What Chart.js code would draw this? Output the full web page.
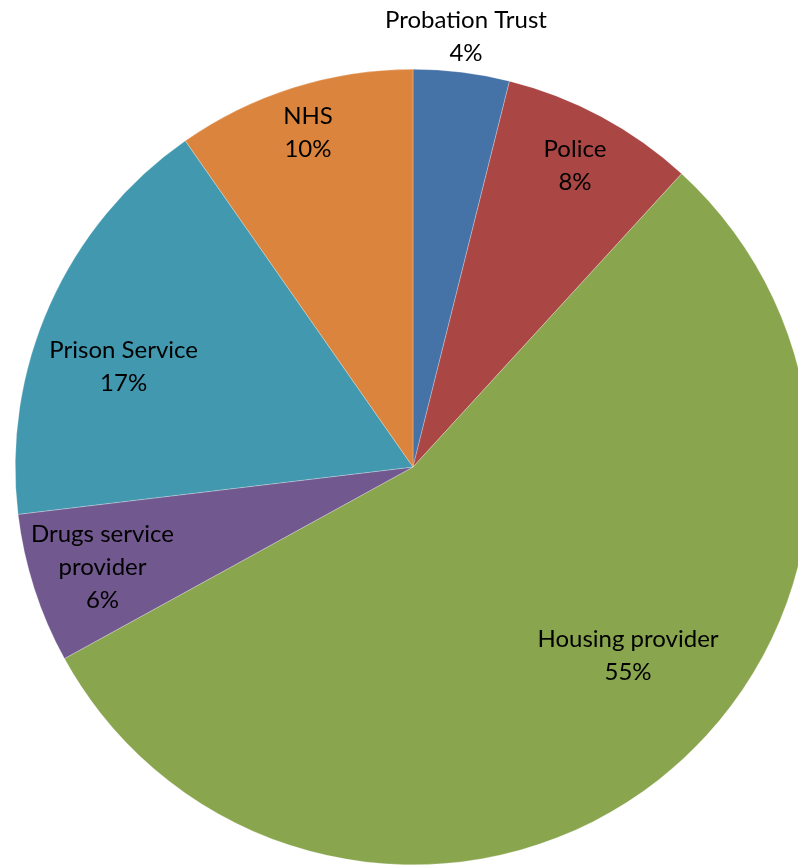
<!DOCTYPE html>
<html>
<head>
<meta charset="utf-8">
<script src="https://cdn.jsdelivr.net/npm/chart.js@4"></script>
<style>
  html, body { margin: 0; padding: 0; background: #fff; overflow: hidden; }
  #wrap { width: 826px; height: 866px; }
</style>
</head>
<body>
<div id="wrap"><canvas id="chart" width="826" height="866"></canvas></div>
<script>
var labels = ["Probation Trust", "Police", "Housing provider", "Drugs service provider", "Prison Service", "NHS"];
var values = [3.9, 7.9, 55.2, 6.1, 17.2, 9.7];
var colors = ["#4572A7", "#AA4643", "#89A54E", "#71588F", "#4198AF", "#DB843D"];

// where each label sits: fraction of the radius, and a nudge in degrees off the slice middle
var labelRadius = [1.09, 0.86, 0.72, 0.82, 0.77, 0.88];
var labelNudge = [0, 0, -10.5, 0, -5, 0];
var labelLines = [["Probation Trust"], ["Police"], ["Housing provider"], ["Drugs service", "provider"], ["Prison Service"], ["NHS"]];

var total = values.reduce((a, b) => a + b, 0);

var pieLabels = {
  id: "pieLabels",
  afterDatasetsDraw: function(chart) {
    var ctx = chart.ctx;
    var meta = chart.getDatasetMeta(0);
    ctx.save();
    ctx.font = "24px Lato";
    ctx.fillStyle = "#000";
    ctx.textAlign = "center";
    ctx.textBaseline = "middle";
    meta.data.forEach(function(arc, i) {
      var mid = (arc.startAngle + arc.endAngle) / 2 + labelNudge[i] * Math.PI / 180;
      var r = arc.outerRadius * labelRadius[i];
      var x = arc.x + Math.cos(mid) * r;
      var y = arc.y + Math.sin(mid) * r;
      var lines = labelLines[i].concat([Math.round(values[i] / total * 100) + "%"]);
      var lh = 33;
      var top = y - (lines.length - 1) * lh / 2;
      lines.forEach(function(line, k) {
        ctx.fillText(line, x, top + k * lh);
      });
    });
    ctx.restore();
  }
};

new Chart(document.getElementById("chart"), {
  type: "pie",
  data: {
    labels: labels,
    datasets: [{
      data: values,
      backgroundColor: colors,
      borderColor: "rgba(255,255,255,0.5)",
      borderWidth: 0.5
    }]
  },
  options: {
    responsive: false,
    animation: false,
    layout: { padding: { left: 15, right: 15, top: 69, bottom: 1 } },
    plugins: {
      legend: { display: false },
      tooltip: { enabled: false }
    }
  },
  plugins: [pieLabels]
});
</script>
</body>
</html>
